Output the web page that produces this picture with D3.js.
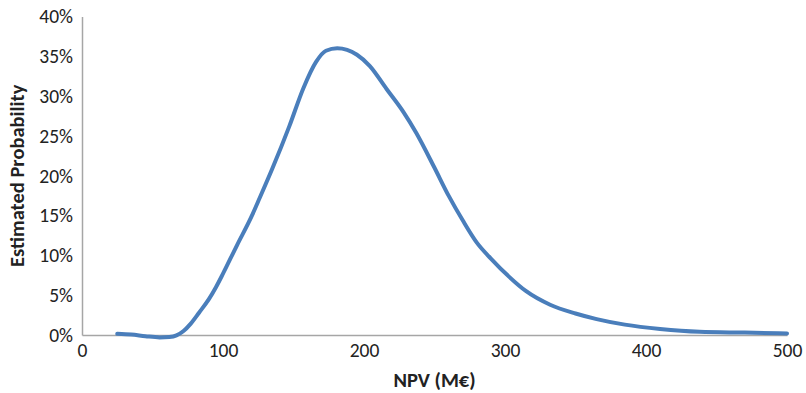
<!DOCTYPE html>
<html>
<head>
<meta charset="utf-8">
<script src="https://cdn.jsdelivr.net/npm/d3@7"></script>
<style>
  html, body { margin: 0; padding: 0; background: #fff; }
  svg { display: block; }
</style>
</head>
<body>
<svg id="chart" width="806" height="393"></svg>
<script>
// ---- data ----
const npv = [25, 35, 45, 55, 62, 67, 72, 77, 83, 90, 95, 100, 110, 120, 126, 135, 147, 157, 166, 173, 181, 188, 195, 204, 216, 228, 237, 250, 260, 270, 280, 290, 303, 315, 332, 350, 365, 385, 410, 438, 470, 500];
const probability = [0.15, 0.05, -0.15, -0.3, -0.25, -0.05, 0.5, 1.4, 2.8, 4.5, 6.0, 7.7, 11.3, 14.8, 17.2, 20.9, 26.2, 31.0, 34.3, 35.7, 36.0, 35.8, 35.2, 33.8, 30.9, 28.0, 25.4, 21.0, 17.5, 14.4, 11.6, 9.6, 7.3, 5.5, 3.8, 2.7, 2.0, 1.3, 0.75, 0.4, 0.3, 0.2];
const xTicks = [0, 100, 200, 300, 400, 500];
const yTicks = [0, 5, 10, 15, 20, 25, 30, 35, 40];
const xTitle = "NPV (M€)";
const yTitle = "Estimated Probability";

const points = npv.map((v, i) => ({ x: v, y: probability[i] }));

const svg = d3.select("#chart");
const font = "Carlito, 'Open Sans', sans-serif";
const axisColor = "#a6a6a6";

const x = d3.scaleLinear().domain([0, 500]).range([82, 787]);
const y = d3.scaleLinear().domain([0, 40]).range([335, 16.5]);

// y axis
const yAxis = d3.axisLeft(y).tickValues(yTicks).tickSize(0).tickPadding(9)
  .tickFormat(d => d + "%");
const gy = svg.append("g").attr("transform", `translate(${x(0)},0)`).call(yAxis);
gy.select(".domain").attr("stroke", axisColor).attr("stroke-width", 1.5);
gy.selectAll("text").style("font-family", font).style("font-size", "19.5px").attr("fill", "#222");

// x axis
const xAxis = d3.axisBottom(x).tickValues(xTicks).tickSize(0).tickPadding(8)
  .tickFormat(d3.format("d"));
const gx = svg.append("g").attr("transform", `translate(0,${y(0)})`).call(xAxis);
gx.select(".domain").attr("stroke", axisColor).attr("stroke-width", 1.5);
gx.selectAll("text").style("font-family", font).style("font-size", "19.5px").attr("fill", "#222");

// line
const line = d3.line()
  .x(d => x(d.x))
  .y(d => y(d.y))
  .curve(d3.curveMonotoneX);

svg.append("path")
  .datum(points)
  .attr("fill", "none")
  .attr("stroke", "#4a7ebb")
  .attr("stroke-width", 4)
  .attr("stroke-linecap", "round")
  .attr("stroke-linejoin", "round")
  .attr("d", line);

// titles
svg.append("text")
  .attr("x", (x(0) + x(500)) / 2)
  .attr("y", 387)
  .attr("text-anchor", "middle")
  .style("font-family", font)
  .style("font-weight", "bold")
  .style("font-size", "20.5px")
  .attr("fill", "#222")
  .text(xTitle);

svg.append("text")
  .attr("transform", `translate(24,${(y(0) + y(40)) / 2}) rotate(-90)`)
  .attr("text-anchor", "middle")
  .style("font-family", font)
  .style("font-weight", "bold")
  .style("font-size", "20.5px")
  .attr("fill", "#222")
  .text(yTitle);
</script>
</body>
</html>
